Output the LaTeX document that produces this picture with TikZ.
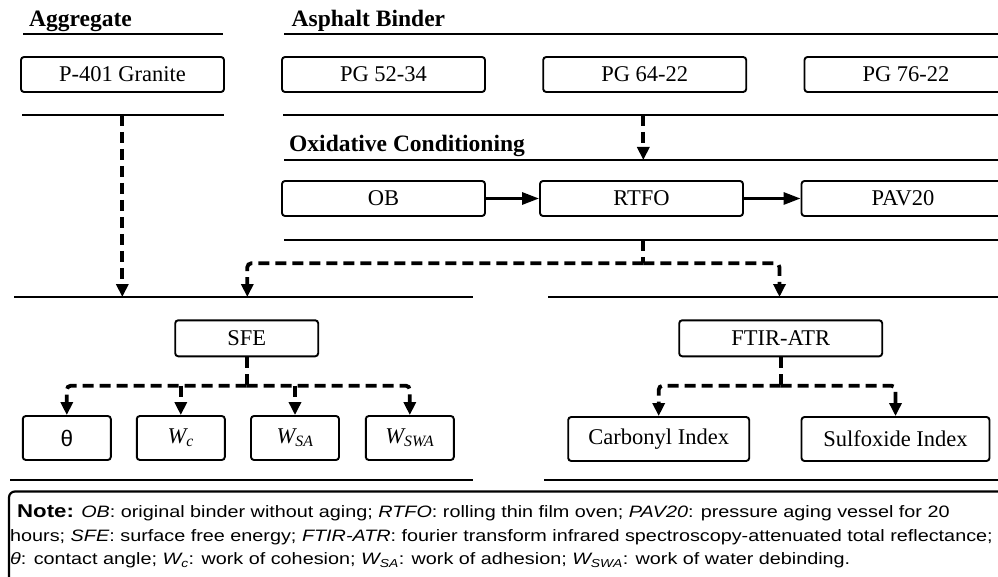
\documentclass[tikz,border=0pt]{standalone}
\usepackage{fontspec}
\setmainfont{Liberation Serif}
\setsansfont{Liberation Sans}
\newfontfamily\notefont[FakeStretch=1.2]{Liberation Sans}
\usetikzlibrary{arrows.meta, positioning, calc}

\begin{document}
\begin{tikzpicture}[x=1pt, y=-1pt,
    boxn/.style={rectangle, rounded corners=3pt, draw=black, line width=1.9pt, minimum height=35pt, minimum width=203pt, inner sep=0pt, font=\fontsize{22.5}{26}\selectfont},
    boxs/.style={boxn, minimum height=44pt, minimum width=88pt},
    hdr/.style={anchor=base west, inner sep=0pt, font=\fontsize{23.5}{26}\selectfont\bfseries},
    sepline/.style={line width=2pt},
    darr/.style={line width=3.8pt, dash pattern=on 11pt off 6pt, rounded corners=4pt, -{Triangle[length=13pt, width=12pt]}},
    sarr/.style={line width=3pt, -{Triangle[length=17pt, width=12pt]}}
  ]
  \useasboundingbox (0,0) rectangle (998,577);
  \clip (0,0) rectangle (998,577);

  % Headers
  \node[hdr] (hagg) at (29,26.5) {Aggregate};
  \node[hdr] (hbin) at (291.5,26.5) {Asphalt Binder};
  \node[hdr] (hoxi) at (289,152) {Oxidative Conditioning};

  % Separators
  \draw[sepline] (23,34) -- (223,34);   \draw[sepline] (284,34) -- (998,34);
  \draw[sepline] (22,115) -- (224,115); \draw[sepline] (283,115) -- (998,115);
  \draw[sepline] (284,160) -- (998,160);
  \draw[sepline] (284,240) -- (998,240);
  \draw[sepline] (14,297) -- (473,297); \draw[sepline] (548,297) -- (998,297);
  \draw[sepline] (10,480) -- (473,480); \draw[sepline] (544,480) -- (998,480);

  % Materials
  \node[boxn] (p401) at (122.5,74.5) {P-401 Granite};
  \node[boxn] (pg52) at (383.5,74.5) {PG 52-34};
  \node[boxn] (pg64) at (644.7,74.5) {PG 64-22};
  \node[boxn] (pg76) at (906,74.5) {PG 76-22};

  % Conditioning
  \node[boxn] (ob) at (383.5,198.5) {OB};
  \node[boxn] (rtfo) at (641.5,198.5) {RTFO};
  \node[boxn] (pav) at (903,198.5) {PAV20};

  % Tests
  \node[boxn, minimum width=143pt, minimum height=36pt] (sfe) at (246.7,338.3) {SFE};
  \node[boxn, minimum height=36pt] (ftir) at (780.7,338.3) {FTIR-ATR};

  \node[boxs] (theta) at (66.8,438) {\sffamily θ};
  \node[boxs] (wc) at (180.8,438) {\textit{W\textsubscript{c}}};
  \node[boxs] (wsa) at (295,438) {\textit{W\textsubscript{SA}}};
  \node[boxs] (wswa) at (409.8,438) {\textit{W\textsubscript{SWA}}};
  \node[boxs, minimum width=181pt] (carb) at (658.7,439) {Carbonyl Index};
  \node[boxs, minimum width=188pt] (sulf) at (895.5,439) {Sulfoxide Index};

  % Connections
  \coordinate (agg1) at (122.3,115);
  \coordinate (agg2) at (122.3,297);
  \coordinate (bin1) at (643.3,115);
  \coordinate (bin2) at (643.3,160);
  \coordinate (oxi1) at (643.3,240);
  \coordinate (oxij) at (643.3,263.3);
  \coordinate (sfein) at (247.3,297);
  \coordinate (ftin) at (779.5,297);
  \coordinate (sfej) at (246.7,385.7);
  \coordinate (ftj) at (780.7,385.7);

  \draw[darr] (agg1) -- (agg2);
  \draw[darr] (bin1) -- (bin2);
  \draw[sarr] (ob) -- (rtfo); \draw[sarr] (rtfo) -- (pav);
  \draw[darr, -] (oxi1) -- (oxij);
  \draw[darr] (oxij) -| (sfein); \draw[darr] (oxij) -| (ftin);
  \draw[darr, -] (sfe) -- (sfej);
  \draw[darr] (sfej) -| (theta); \draw[darr] (sfej) -| (wswa);
  \draw[darr] (wc |- sfej) -- (wc); \draw[darr] (wsa |- sfej) -- (wsa);
  \draw[darr, -] (ftir) -- (ftj);
  \draw[darr] (ftj) -| (carb); \draw[darr] (ftj) -| (sulf);

  % Note
  \draw[line width=2.2pt, rounded corners=6pt] (9,491.5) rectangle (1010,610);
  \node[anchor=north west, align=left, inner sep=0pt, font=\notefont\fontsize{16.5}{23.5}\selectfont] (note) at (10,505)
    {\hspace*{7pt}{\fontsize{18.5}{23.5}\selectfont\bfseries Note:} \textit{OB}: original binder without aging; \textit{RTFO}: rolling thin film oven; \textit{PAV20}: pressure aging vessel for 20\\
     hours; \textit{SFE}: surface free energy; \textit{FTIR-ATR}: fourier transform infrared spectroscopy-attenuated total reflectance;\\
     \textit{θ}: contact angle; \textit{W\textsubscript{c}}: work of cohesion; \textit{W\textsubscript{SA}}: work of adhesion; \textit{W\textsubscript{SWA}}: work of water debinding.};
\end{tikzpicture}
\end{document}
